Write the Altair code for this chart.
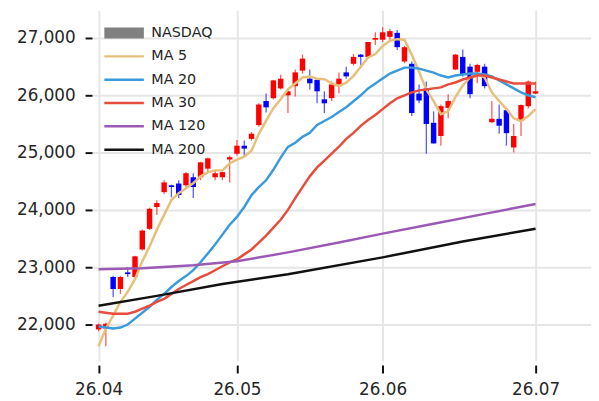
import altair as alt
import pandas as pd

# ---------------- data ----------------
idx = list(range(61))
opens = [21915, 21930, 22830, 22620, 22910, 22830, 23310, 23670, 24050, 24310,
         24430, 24460, 24430, 24570, 24570, 24720, 24570, 24570, 24880, 24980,
         25120, 25240, 25480, 25900, 25950, 26120, 26000, 26160, 26430, 26290,
         26270, 25930, 25950, 26190, 26400, 26550, 26710, 26670, 26970, 26970,
         27020, 27090, 26590, 26550, 26030, 26120, 25520, 25290, 25780, 26450,
         26670, 26500, 26410, 26500, 25530, 25590, 25740, 25090, 25550, 25810,
         26030]
highs = [22020, 22030, 22850, 22850, 23000, 23200, 23660, 24040, 24170, 24520,
         24440, 24520, 24660, 24640, 24840, 24910, 24690, 24670, 24950, 25220,
         25210, 25360, 25860, 26030, 26270, 26360, 26100, 26450, 26710, 26450,
         26290, 26070, 26240, 26400, 26500, 26720, 26720, 26930, 27100, 27190,
         27160, 27140, 26860, 26590, 26190, 26240, 25720, 25840, 26020, 26720,
         26800, 26550, 26550, 26550, 25900, 25840, 25760, 25500, 25840, 26260,
         26240]
lows = [21880, 21620, 22480, 22535, 22830, 22790, 23290, 23650, 23910, 24280,
        24220, 24210, 24400, 24210, 24520, 24650, 24520, 24520, 24480, 24950,
        24920, 25210, 25450, 25700, 25930, 26100, 25690, 25980, 26380, 26100,
        25860, 25690, 25900, 26030, 26290, 26520, 26530, 26640, 26880, 26930,
        26970, 26790, 26560, 25640, 25860, 24980, 25160, 25120, 25600, 26440,
        26330, 25950, 26210, 26120, 25520, 25330, 25120, 25000, 25290, 25770,
        26020]
closes = [22000, 22015, 22620, 22830, 22880, 23190, 23640, 24020, 24120, 24480,
          24400, 24260, 24640, 24400, 24830, 24900, 24640, 24660, 24920, 25120,
          25070, 25330, 25840, 25790, 26260, 26290, 26070, 26400, 26640, 26210,
          26070, 25860, 26190, 26290, 26330, 26670, 26670, 26930, 27000, 27100,
          27120, 26840, 26840, 25690, 25910, 25500, 25160, 25810, 25900, 26710,
          26360, 26020, 26530, 26160, 25590, 25470, 25340, 25290, 25830, 26240,
          26070]

ma5 = [21621, 21931, 22155, 22397, 22569, 22793, 23103, 23362, 23655, 23914,
       24172, 24293, 24379, 24466, 24586, 24655, 24690, 24690, 24810, 24879,
       24931, 25034, 25328, 25552, 25776, 25931, 26103, 26207, 26310, 26328,
       26290, 26280, 26210, 26160, 26220, 26340, 26500, 26660, 26720, 26860,
       26950, 26980, 26970, 26710, 26410, 26100, 25900, 25670, 25720, 25970,
       26170, 26310, 26380, 26310, 26050, 25900, 25760, 25600, 25550, 25640,
       25760]
ma20 = [21966, 21948, 21931, 21948, 22000, 22103, 22207, 22310, 22431, 22534,
        22655, 22759, 22845, 22948, 23086, 23241, 23397, 23569, 23741, 23879,
        24052, 24259, 24397, 24517, 24700, 24914, 25100, 25172, 25276, 25345,
        25483, 25552, 25621, 25707, 25793, 25897, 26000, 26121, 26207, 26293,
        26379, 26431, 26483, 26483, 26466, 26431, 26397, 26345, 26310, 26345,
        26362, 26379, 26379, 26362, 26328, 26259, 26190, 26121, 26052, 26000,
        25966]
ma30 = [22224, 22207, 22190, 22190, 22190, 22224, 22276, 22328, 22397, 22448,
        22534, 22621, 22690, 22759, 22828, 22879, 22948, 23017, 23086, 23138,
        23224, 23310, 23431, 23552, 23690, 23828, 24000, 24207, 24397, 24586,
        24741, 24862, 24983, 25103, 25241, 25345, 25466, 25569, 25655, 25759,
        25862, 25948, 26000, 26052, 26086, 26103, 26121, 26138, 26190, 26224,
        26276, 26310, 26345, 26345, 26310, 26276, 26241, 26207, 26207, 26207,
        26207]
ma120_idx = [0, 6, 13, 19, 26, 33, 39, 46, 53, 60]
ma120 = [22966, 22983, 23034, 23103, 23259, 23431, 23586, 23759, 23931, 24103]
ma200_idx = [0, 8, 17, 26, 39, 50, 60]
ma200 = [22328, 22500, 22707, 22879, 23172, 23448, 23672]

series_names = ["NASDAQ", "MA 5", "MA 20", "MA 30", "MA 120", "MA 200"]
series_colors = ["#808080", "#E6C07A", "#3A9BDC", "#E74C3C", "#9B59B6", "#111111"]
series_widths = [11, 2.5, 2.5, 2.5, 2.5, 2.5]

x_tick_values = [0, 19, 39, 60]
x_tick_labels = ["26.04", "26.05", "26.06", "26.07"]
y_tick_values = [22000, 23000, 24000, 25000, 26000, 27000]

# ---------------- tables ----------------
candles = pd.DataFrame({"i": idx, "open": opens, "high": highs, "low": lows, "close": closes})

frames = []
for name, xs, vs in [("MA 5", idx, ma5), ("MA 20", idx, ma20), ("MA 30", idx, ma30),
                     ("MA 120", ma120_idx, ma120), ("MA 200", ma200_idx, ma200)]:
    frames.append(pd.DataFrame({"i": xs, "v": vs, "series": name}))
lines_df = pd.concat(frames, ignore_index=True)

label_expr = "''"
for v, t in zip(reversed(x_tick_values), reversed(x_tick_labels)):
    label_expr = f"datum.value == {v} ? '{t}' : ({label_expr})"

FONT = "DejaVu Sans"
xscale = alt.Scale(domain=[-0.226, 66.93], nice=False, zero=False)
yscale = alt.Scale(domain=[21362, 27483], nice=False, zero=False)
xaxis = alt.Axis(values=x_tick_values, labelExpr=label_expr, title=None,
                 grid=True, gridColor="#e6e6e6", gridWidth=2, domain=False,
                 tickColor="#111111", tickWidth=2, tickSize=8, offset=4,
                 labelFont=FONT, labelFontSize=17, labelColor="#262626",
                 labelPadding=9)
yaxis = alt.Axis(values=y_tick_values, format=",d", title=None,
                 grid=True, gridColor="#e6e6e6", gridWidth=2, domain=False,
                 tickColor="#111111", tickWidth=2, tickSize=7,
                 labelFont=FONT, labelFontSize=17, labelColor="#262626",
                 labelPadding=10)

up_down = alt.condition("datum.close >= datum.open", alt.value("#ff0000"), alt.value("#0000ff"))

base = alt.Chart(candles).encode(x=alt.X("i:Q", scale=xscale, axis=xaxis))
wicks = base.mark_rule(strokeWidth=1.3, opacity=0.65).encode(
    y=alt.Y("low:Q", scale=yscale, axis=yaxis), y2="high:Q", color=up_down)
bodies = base.mark_bar(size=5.5).encode(
    y=alt.Y("open:Q", scale=yscale, axis=yaxis), y2="close:Q", color=up_down)

legend = alt.Legend(
    title=None, orient="none", legendX=7, legendY=15,
    symbolType="stroke", symbolSize=1600, clipHeight=16, rowPadding=7.6, padding=0,
    labelOffset=2, labelFont=FONT, labelFontSize=14.5, labelColor="#262626",
)

ma_lines = alt.Chart(lines_df).mark_line().encode(
    x=alt.X("i:Q", scale=xscale, axis=xaxis),
    y=alt.Y("v:Q", scale=yscale, axis=yaxis),
    color=alt.Color("series:N", scale=alt.Scale(domain=series_names, range=series_colors),
                    legend=legend),
    strokeWidth=alt.StrokeWidth("series:N",
                                scale=alt.Scale(type="ordinal", domain=series_names,
                                                range=series_widths),
                                legend=legend),
)

chart = alt.layer(wicks, bodies, ma_lines).properties(
    width=505, height=355,
    padding={"left": 85, "top": 0, "right": 0, "bottom": 36},
    autosize=alt.AutoSizeParams(type="none"),
).configure_view(stroke=None)

chart.save("out.html", embed_options={"renderer": "svg", "actions": False})
